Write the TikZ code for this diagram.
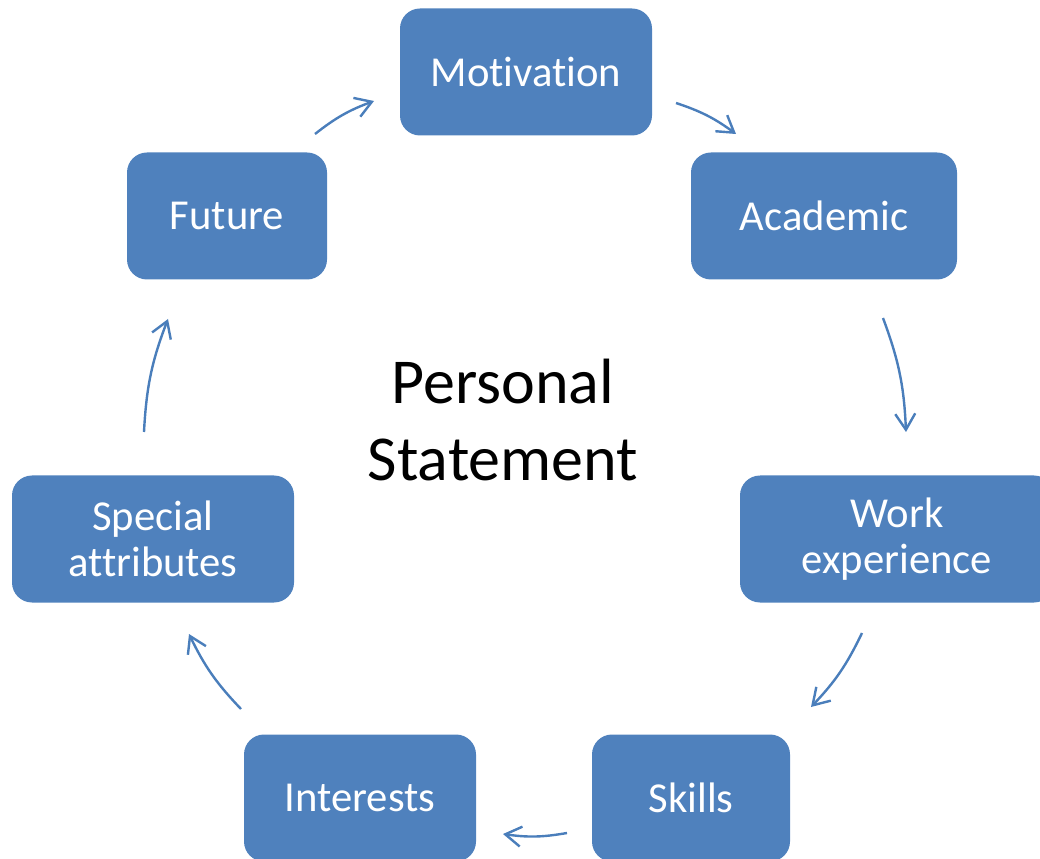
\documentclass[tikz,border=0pt]{standalone}
\usepackage{fontspec}
\setmainfont{Carlito}[Ligatures=NoCommon]
\usetikzlibrary{arrows.meta}
\definecolor{boxblue}{HTML}{4F81BD}
\definecolor{arrowblue}{HTML}{4A7EBB}
\begin{document}
\begin{tikzpicture}[x=0.75pt,y=-0.75pt,
  stepbox/.style={rectangle,rounded corners=15pt,fill=boxblue,draw=none,
    text=white,font=\fontsize{32}{34.5}\selectfont,align=center,
    minimum height=95.25pt,inner sep=0pt},
  flow/.style={draw=arrowblue,line width=1.8pt,bend left=9,
    -{Straight Barb[length=12pt,width=15pt,line width=1.8pt]}}]
\useasboundingbox (0,0) rectangle (1040,859);
\clip (0,0) rectangle (1040,859);
\node[stepbox,minimum width=189pt] (mot) at (526,72) {Motivation};
\node[stepbox,minimum width=199.5pt] (aca) at (824,216) {Academic};
\node[stepbox,minimum width=235.5pt] (work) at (897,539) {Work\\experience};
\node[stepbox,minimum width=148.5pt] (skills) at (691,798) {Skills};
\node[stepbox,minimum width=174pt] (int) at (360,798) {Interests};
\node[stepbox,minimum width=211.5pt] (spec) at (153,539) {Special\\attributes};
\node[stepbox,minimum width=150pt] (fut) at (227,216) {Future};
\node[font=\fontsize{48}{58}\selectfont,align=center] (ps) at (503,420) {Personal\\Statement};
\coordinate (a1s) at (315,134); \coordinate (a1e) at (374,101);
\coordinate (a2s) at (676,103); \coordinate (a2e) at (736,134);
\coordinate (a3s) at (883,318); \coordinate (a3e) at (906,432);
\coordinate (a4s) at (862,633); \coordinate (a4e) at (811,707);
\coordinate (a5s) at (567,833); \coordinate (a5e) at (503,834);
\coordinate (a6s) at (241,709); \coordinate (a6e) at (189,634);
\coordinate (a7s) at (144,432); \coordinate (a7e) at (168,319);
\draw[flow] (a1s) to (a1e);
\draw[flow] (a2s) to (a2e);
\draw[flow] (a3s) to (a3e);
\draw[flow] (a4s) to (a4e);
\draw[flow] (a5s) to (a5e);
\draw[flow] (a6s) to (a6e);
\draw[flow] (a7s) to (a7e);
\end{tikzpicture}
\end{document}
